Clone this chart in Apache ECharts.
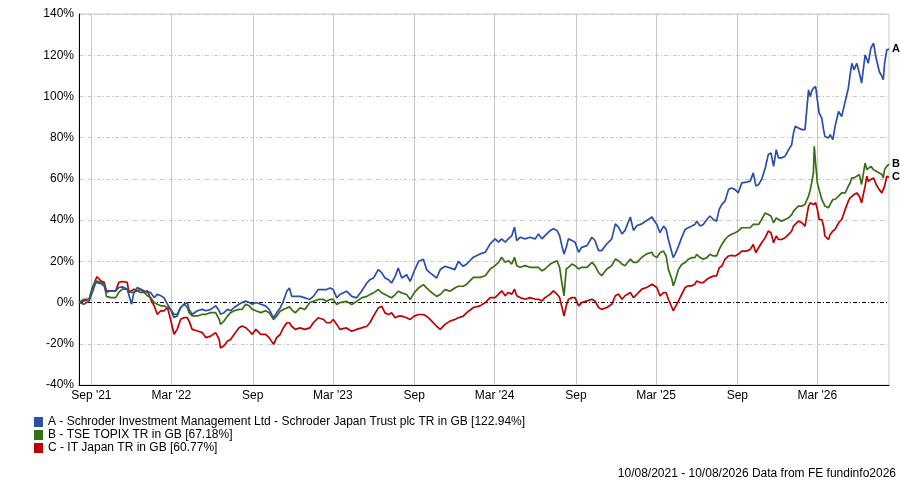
<!DOCTYPE html>
<html><head><meta charset="utf-8">
<script src="https://cdn.jsdelivr.net/npm/echarts@6/dist/echarts.min.js"></script>
<style>html,body{margin:0;padding:0;background:#fff}#c{width:900px;height:484px}</style>
</head><body><div id="c"></div>
<script>
const axisStart = '2021-08-04';
const axisEnd = '2026-08-10';
const tickDates = ['2021-09-01','2022-03-01','2022-09-01','2023-03-01','2023-09-01','2024-03-01','2024-09-01','2025-03-01','2025-09-01','2026-03-01'];
const tickLabels = ["Sep '21","Mar '22","Sep","Mar '23","Sep","Mar '24","Sep","Mar '25","Sep","Mar '26"];
const seriesNames = [
  'A - Schroder Investment Management Ltd - Schroder Japan Trust plc TR in GB [122.94%]',
  'B - TSE TOPIX TR in GB [67.18%]',
  'C - IT Japan TR in GB [60.77%]'
];
const seriesLetters = ['A','B','C'];
const seriesColors = ['#2B4EAD','#3A6E12','#C00000'];
const footerText = '10/08/2021 - 10/08/2026 Data from FE fundinfo2026';

const dates = [
'2021-08-04','2021-08-15','2021-08-27','2021-09-03','2021-09-11','2021-09-14','2021-09-22','2021-09-30','2021-10-05','2021-10-15',
'2021-10-26','2021-11-02','2021-11-10','2021-11-21','2021-11-25','2021-12-01','2021-12-06','2021-12-14','2021-12-21','2021-12-29',
'2022-01-06','2022-01-13','2022-01-21','2022-01-28','2022-02-05','2022-02-12','2022-02-20','2022-02-27','2022-03-07','2022-03-14',
'2022-03-22','2022-03-30','2022-04-06','2022-04-10','2022-04-17','2022-04-29','2022-05-10','2022-05-18','2022-05-29','2022-06-09',
'2022-06-17','2022-06-20','2022-06-28','2022-07-06','2022-07-13','2022-07-21','2022-08-01','2022-08-08','2022-08-16','2022-08-24',
'2022-08-31','2022-09-08','2022-09-19','2022-09-30','2022-10-08','2022-10-18','2022-10-25','2022-11-02','2022-11-09','2022-11-17',
'2022-11-23','2022-11-28','2022-12-06','2022-12-17','2022-12-28','2023-01-08','2023-01-16','2023-01-27','2023-02-08','2023-02-15',
'2023-02-23','2023-03-02','2023-03-10','2023-03-17','2023-04-01','2023-04-13','2023-04-24','2023-05-05','2023-05-17','2023-05-24',
'2023-06-01','2023-06-12','2023-06-20','2023-06-27','2023-07-05','2023-07-12','2023-07-20','2023-07-27','2023-08-04','2023-08-15',
'2023-08-23','2023-09-01','2023-09-11','2023-09-22','2023-09-29','2023-10-07','2023-10-22','2023-10-30','2023-11-10','2023-11-21',
'2023-12-02','2023-12-10','2023-12-21','2023-12-29','2024-01-13','2024-01-28','2024-02-09','2024-02-20','2024-03-02','2024-03-10',
'2024-03-17','2024-03-25','2024-04-01','2024-04-09','2024-04-15','2024-04-20','2024-04-28','2024-05-09','2024-05-20','2024-06-01',
'2024-06-08','2024-06-16','2024-06-23','2024-07-05','2024-07-12','2024-07-20','2024-07-26','2024-07-31','2024-08-05','2024-08-10',
'2024-08-15','2024-08-23','2024-08-30','2024-09-07','2024-09-14','2024-09-26','2024-10-07','2024-10-14','2024-10-22','2024-10-29',
'2024-11-10','2024-11-21','2024-11-29','2024-12-06','2024-12-14','2024-12-21','2025-01-02','2025-01-09','2025-01-17','2025-01-28',
'2025-02-08','2025-02-20','2025-02-23','2025-03-03','2025-03-10','2025-03-18','2025-03-24','2025-03-29','2025-04-06','2025-04-09',
'2025-04-13','2025-04-21','2025-04-28','2025-05-06','2025-05-13','2025-05-21','2025-05-28','2025-06-01','2025-06-09','2025-06-16',
'2025-06-24','2025-07-01','2025-07-09','2025-07-16','2025-07-22','2025-07-28','2025-08-04','2025-08-12','2025-08-19','2025-08-27',
'2025-09-03','2025-09-11','2025-09-22','2025-09-30','2025-10-07','2025-10-13','2025-10-19','2025-10-26','2025-11-03','2025-11-10',
'2025-11-16','2025-11-22','2025-11-28','2025-12-03','2025-12-10','2025-12-18','2025-12-26','2026-01-02','2026-01-06','2026-01-10',
'2026-01-17','2026-01-25','2026-02-01','2026-02-05','2026-02-09','2026-02-13','2026-02-16','2026-02-20','2026-02-22','2026-02-25',
'2026-03-01','2026-03-05','2026-03-11','2026-03-15','2026-03-18','2026-03-26','2026-03-30','2026-04-05','2026-04-10','2026-04-18',
'2026-04-25','2026-05-03','2026-05-10','2026-05-14','2026-05-18','2026-05-23','2026-05-29','2026-06-04','2026-06-09','2026-06-17',
'2026-06-21','2026-06-24','2026-06-30','2026-07-06','2026-07-12','2026-07-19','2026-07-25','2026-07-28','2026-07-31','2026-08-05',
'2026-08-10'
];

const valuesA = [
0,-0.8,0.8,4.9,9.8,10.6,9.3,8,5,5.7,
5.7,7.3,7.6,6.5,5.7,-0.8,4.9,7.3,6.5,5.7,
4.9,4.9,2.4,4,3.3,2.4,-0.8,-3.3,-7.3,-6.5,
-2.4,-0.8,0,-3.3,-5.7,-4,-3.3,-4,-3.3,-1.6,
-4,-5.7,-4.9,-3.3,-4,-2.4,-0.8,0,0.8,0,
-0.8,0,-0.8,-1.6,-3.3,-7.4,-5,-2.6,0.6,5.5,
7.1,3,3,3,2.3,1.5,3,6.3,6.3,6.3,
7.1,6.3,2.3,3.9,5.5,3,2.3,5.5,9.5,11.1,
11.9,16,14.4,11.9,11.1,9.5,12.7,16.8,11.9,13.5,
10.3,15.2,20,21,16,14.4,11.9,16,17.6,16.8,
16,20,17.6,18.7,22,23.6,24.4,28.5,30.9,29.3,
30.9,29.3,30.9,32.5,36.6,30.1,31.7,30.9,31.7,30.9,
33.3,30.9,32.5,35,35.8,35,32.5,27.6,23.6,26.8,
30.9,30.1,29.3,24.4,26.8,27.6,31.7,30.1,25.2,25.2,
28.5,30.9,38.2,36.6,33.3,35,41.5,35,37.4,38.2,
39.8,41.5,40.3,37.9,33.9,37.1,35.5,30.6,24.2,21.8,
23.4,27.4,31.5,35.5,36.3,37.1,37.9,39.5,37.1,37.9,
40.3,42,40.3,39.5,45.2,47.6,49.2,54.8,55.6,54.8,
53.2,58.1,58.4,58.9,62.9,56.5,57.3,59.7,65.3,71.8,
72.6,66.1,74.2,70.2,70.2,71,74.2,76.6,82.3,85.5,
84.7,83.9,83.9,93.5,103.2,100,102.4,104,104.5,104.8,
104.8,91.9,89.5,83.9,80.6,79.8,81.5,79,85.5,92.7,
90.3,97.6,104,110.5,116.1,112.9,116.1,111.3,106.5,120.2,
119.4,116.1,123.4,125.8,118.5,112.1,109.7,108.1,116.1,122.6,
122.94
];

const valuesB = [
0,1.6,1.6,7.3,10.6,11.4,9.8,9,3,2.4,
2.4,4.9,6.5,6.5,5.7,4.9,4.9,5.7,4.9,4.9,
3.3,2.4,0,-0.8,-1.6,-1.6,-2.4,-3.3,-5.7,-5.7,
-2.4,-0.8,-2.4,-4.9,-6.5,-6.5,-5.7,-5.7,-4.9,-4.9,
-8.1,-10.6,-9,-6.5,-4.9,-4,-3.3,-3.3,-0.8,-1.6,
-3.3,-4,-4.9,-4,-4.9,-8.2,-6.6,-4.2,-3.4,-2.6,
-2.1,-3.4,-5,-2.6,-3.4,0,0.6,1.5,1.5,0.6,
1.5,1.5,-1,0,0.6,-1,0.6,2.3,3,3.9,
4.7,6.3,4.7,3.9,3,2.3,3.9,5.5,4.7,3.9,
1.5,4.7,7.1,8.7,7.1,5.5,3,3.9,6.3,5.5,
7.1,7.9,7.9,8.9,12.2,12.2,13,16.3,17.9,19.5,
22,19.5,20.3,18.7,22,17.9,17.1,17.9,17.1,17.1,
17.1,15.4,16.3,18.7,19.5,20.3,17.1,9.8,3.3,16.3,
17.1,18.7,17.9,16.3,17.1,17.1,19.5,17.9,14.6,13,
16.3,17.9,21.1,20.3,18.7,17.9,21.1,19.5,19.5,22,
23.6,24.4,22.9,21.8,24.2,25,22.6,16.1,11.3,8.1,
10.5,16.1,18.5,19.4,21,21.8,21.8,23.4,21.8,21,
21.8,23.4,22.6,22.6,25.8,28.2,30.6,32.3,33.1,33.9,
34.7,36.3,36.3,36.3,37.9,37.9,37.9,40.3,43.5,42.7,
42,38.7,41.1,40.3,39.5,40.3,41.1,42.7,44.4,44.4,
46.8,46.8,47.6,48.4,51.6,54.8,58,62.9,75.8,67.7,
58,54.8,50,48.4,46.8,46,47.6,50,50,51.6,
53.2,53.2,56.5,58,60.5,60.5,61.3,62.1,57.3,67.7,
64.5,64.5,66.1,64.5,63.7,62.9,62.1,60.5,64.5,66.1,
67.18
];

const valuesC = [
0,0.8,1.6,6.5,11.4,12.5,10.6,9.8,5.7,5.7,
5.7,9.8,10.2,9.8,4.9,5.7,6.5,5.7,6.5,4.9,
5.7,1.6,-1.6,-5.7,-4,-4,-2.4,-8.1,-15.4,-13,
-8.1,-7.3,-7.3,-9,-13,-13.8,-14.6,-17,-16.3,-14.6,
-17.9,-22,-21,-18.7,-17.9,-15.4,-12.2,-11.4,-12.2,-13.8,
-15.4,-13,-15.4,-15.4,-17,-20.3,-17,-15.5,-12.3,-9.8,
-9.8,-11.5,-13,-12.3,-13,-12.3,-9.8,-7.4,-8.2,-9.8,
-9.8,-8.2,-10.6,-13,-12.3,-13.9,-13,-12.3,-11.5,-9.8,
-6.6,-2.6,-1.8,-5,-5.8,-5,-7.4,-6.6,-6.6,-7.4,
-8.2,-6.6,-5.8,-5.8,-6.6,-8.2,-11.5,-13,-10.6,-9,
-8.2,-7.4,-6.6,-4.9,-2.4,-1.6,0,2.4,2.4,4.1,
5.7,3.3,4.9,4.1,6.5,3.3,2.4,1.6,2.4,1.6,
1.6,0.8,2.4,4.1,5.7,4.1,2.4,-2,-6.5,-1.6,
1.6,2.4,2.4,-1.6,0,0.8,1.6,0.8,-2.4,-3.3,
-2.4,-0.8,3.3,4.1,1.6,3.3,4.9,2.4,4.1,6.5,
7.3,8.9,8,7.3,3.2,4.8,4.8,1.6,-2.4,-4,
-3.2,0.8,4,7.3,8.1,8.1,8.9,10.5,9.7,9.7,
11.3,12.1,12.9,12.9,16.9,17.7,21,22.6,22.9,22.6,
23.4,25,25,25.8,28.2,24.2,26.6,29,31.5,34.7,
33.9,29,32.3,30.6,30.6,31.5,33.1,34.7,37.1,37.9,
39.5,38.7,37.1,41.9,46.8,48.4,49.2,47.6,48,48.4,
45.2,40.3,40.3,37.1,32.3,30.6,33,34.7,35.5,38.7,
40.3,45.2,49.2,50.8,51.6,52.4,53.2,51.6,48.4,56.5,
61.3,58.9,59.7,60.5,57.3,54.8,53.2,52.4,56.5,61.3,
60.77
];

// Daily category axis so that ticks can sit on the 1st of Mar / Sep
const categories = [];
(function(){
  const s = new Date(axisStart + 'T00:00:00Z').getTime();
  const e = new Date(axisEnd + 'T00:00:00Z').getTime();
  for (let t = s; t <= e; t += 86400000) categories.push(new Date(t).toISOString().slice(0,10));
})();
const tickMap = {};
tickDates.forEach((d,i)=>{ tickMap[d] = tickLabels[i]; });
const isTick = (idx, val) => Object.prototype.hasOwnProperty.call(tickMap, val);

const FONT = "'Liberation Sans', Arial, sans-serif";
const allValues = [valuesA, valuesB, valuesC];

const series = allValues.map((vals, si) => ({
  name: seriesNames[si],
  type: 'line',
  data: dates.map((d, i) => [d, vals[i]]),
  showSymbol: false,
  symbol: 'none',
  color: seriesColors[si],
  lineStyle: { width: 1.7, color: seriesColors[si] },
  z: 5 - si,
  endLabel: {
    show: true,
    formatter: () => seriesLetters[si],
    color: '#000',
    fontFamily: FONT,
    fontSize: 11,
    fontWeight: 'bold',
    distance: 3
  },
  emphasis: { disabled: true },
  animation: false
}));

// zero reference line (dash-dot), drawn through the axes
series.push({
  name: 'zero',
  type: 'line',
  data: [[categories[0], 0], [categories[categories.length - 1], 0]],
  showSymbol: false,
  symbol: 'none',
  lineStyle: { color: '#000', width: 1, type: [4, 2, 1, 2] },
  z: 1,
  silent: true,
  emphasis: { disabled: true },
  animation: false
});

const chart = echarts.init(document.getElementById('c'), null, { renderer: 'canvas' });
chart.setOption({
  animation: false,
  backgroundColor: '#fff',
  textStyle: { fontFamily: FONT },
  grid: { left: 79, right: 11, top: 14, bottom: 99, show: true, borderColor: '#c8c8c8', borderWidth: 1 },
  xAxis: {
    type: 'category',
    data: categories,
    boundaryGap: false,
    axisLine: { show: true, onZero: false, lineStyle: { color: '#000', width: 1 } },
    axisTick: { show: false, interval: isTick },
    axisLabel: { interval: isTick, formatter: v => tickMap[v] || '', color: '#000', fontSize: 12, fontFamily: FONT, margin: 5, hideOverlap: false },
    splitLine: { show: true, interval: isTick, lineStyle: { color: '#c8c8c8', width: 1, type: 'solid' } }
  },
  yAxis: {
    type: 'value',
    min: -40, max: 140, interval: 20,
    axisLine: { show: true, lineStyle: { color: '#000', width: 1 } },
    axisTick: { show: false },
    axisLabel: { formatter: '{value}%', color: '#000', fontSize: 12, fontFamily: FONT, margin: 5 },
    splitLine: { show: true, lineStyle: { color: '#c8c8c8', width: 1, type: [4, 2, 1, 2] } }
  },
  legend: {
    orient: 'vertical',
    left: 34, top: 416,
    padding: 0,
    itemWidth: 9, itemHeight: 10, itemGap: 1,
    icon: 'rect',
    selectedMode: false,
    textStyle: { color: '#000', fontSize: 12, fontFamily: FONT, lineHeight: 12 },
    data: seriesNames
  },
  title: {
    text: footerText,
    right: 4, bottom: 4,
    padding: 0,
    textStyle: { color: '#000', fontSize: 12, fontWeight: 'normal', fontFamily: FONT }
  },
  series: series
});
</script>
</body></html>
